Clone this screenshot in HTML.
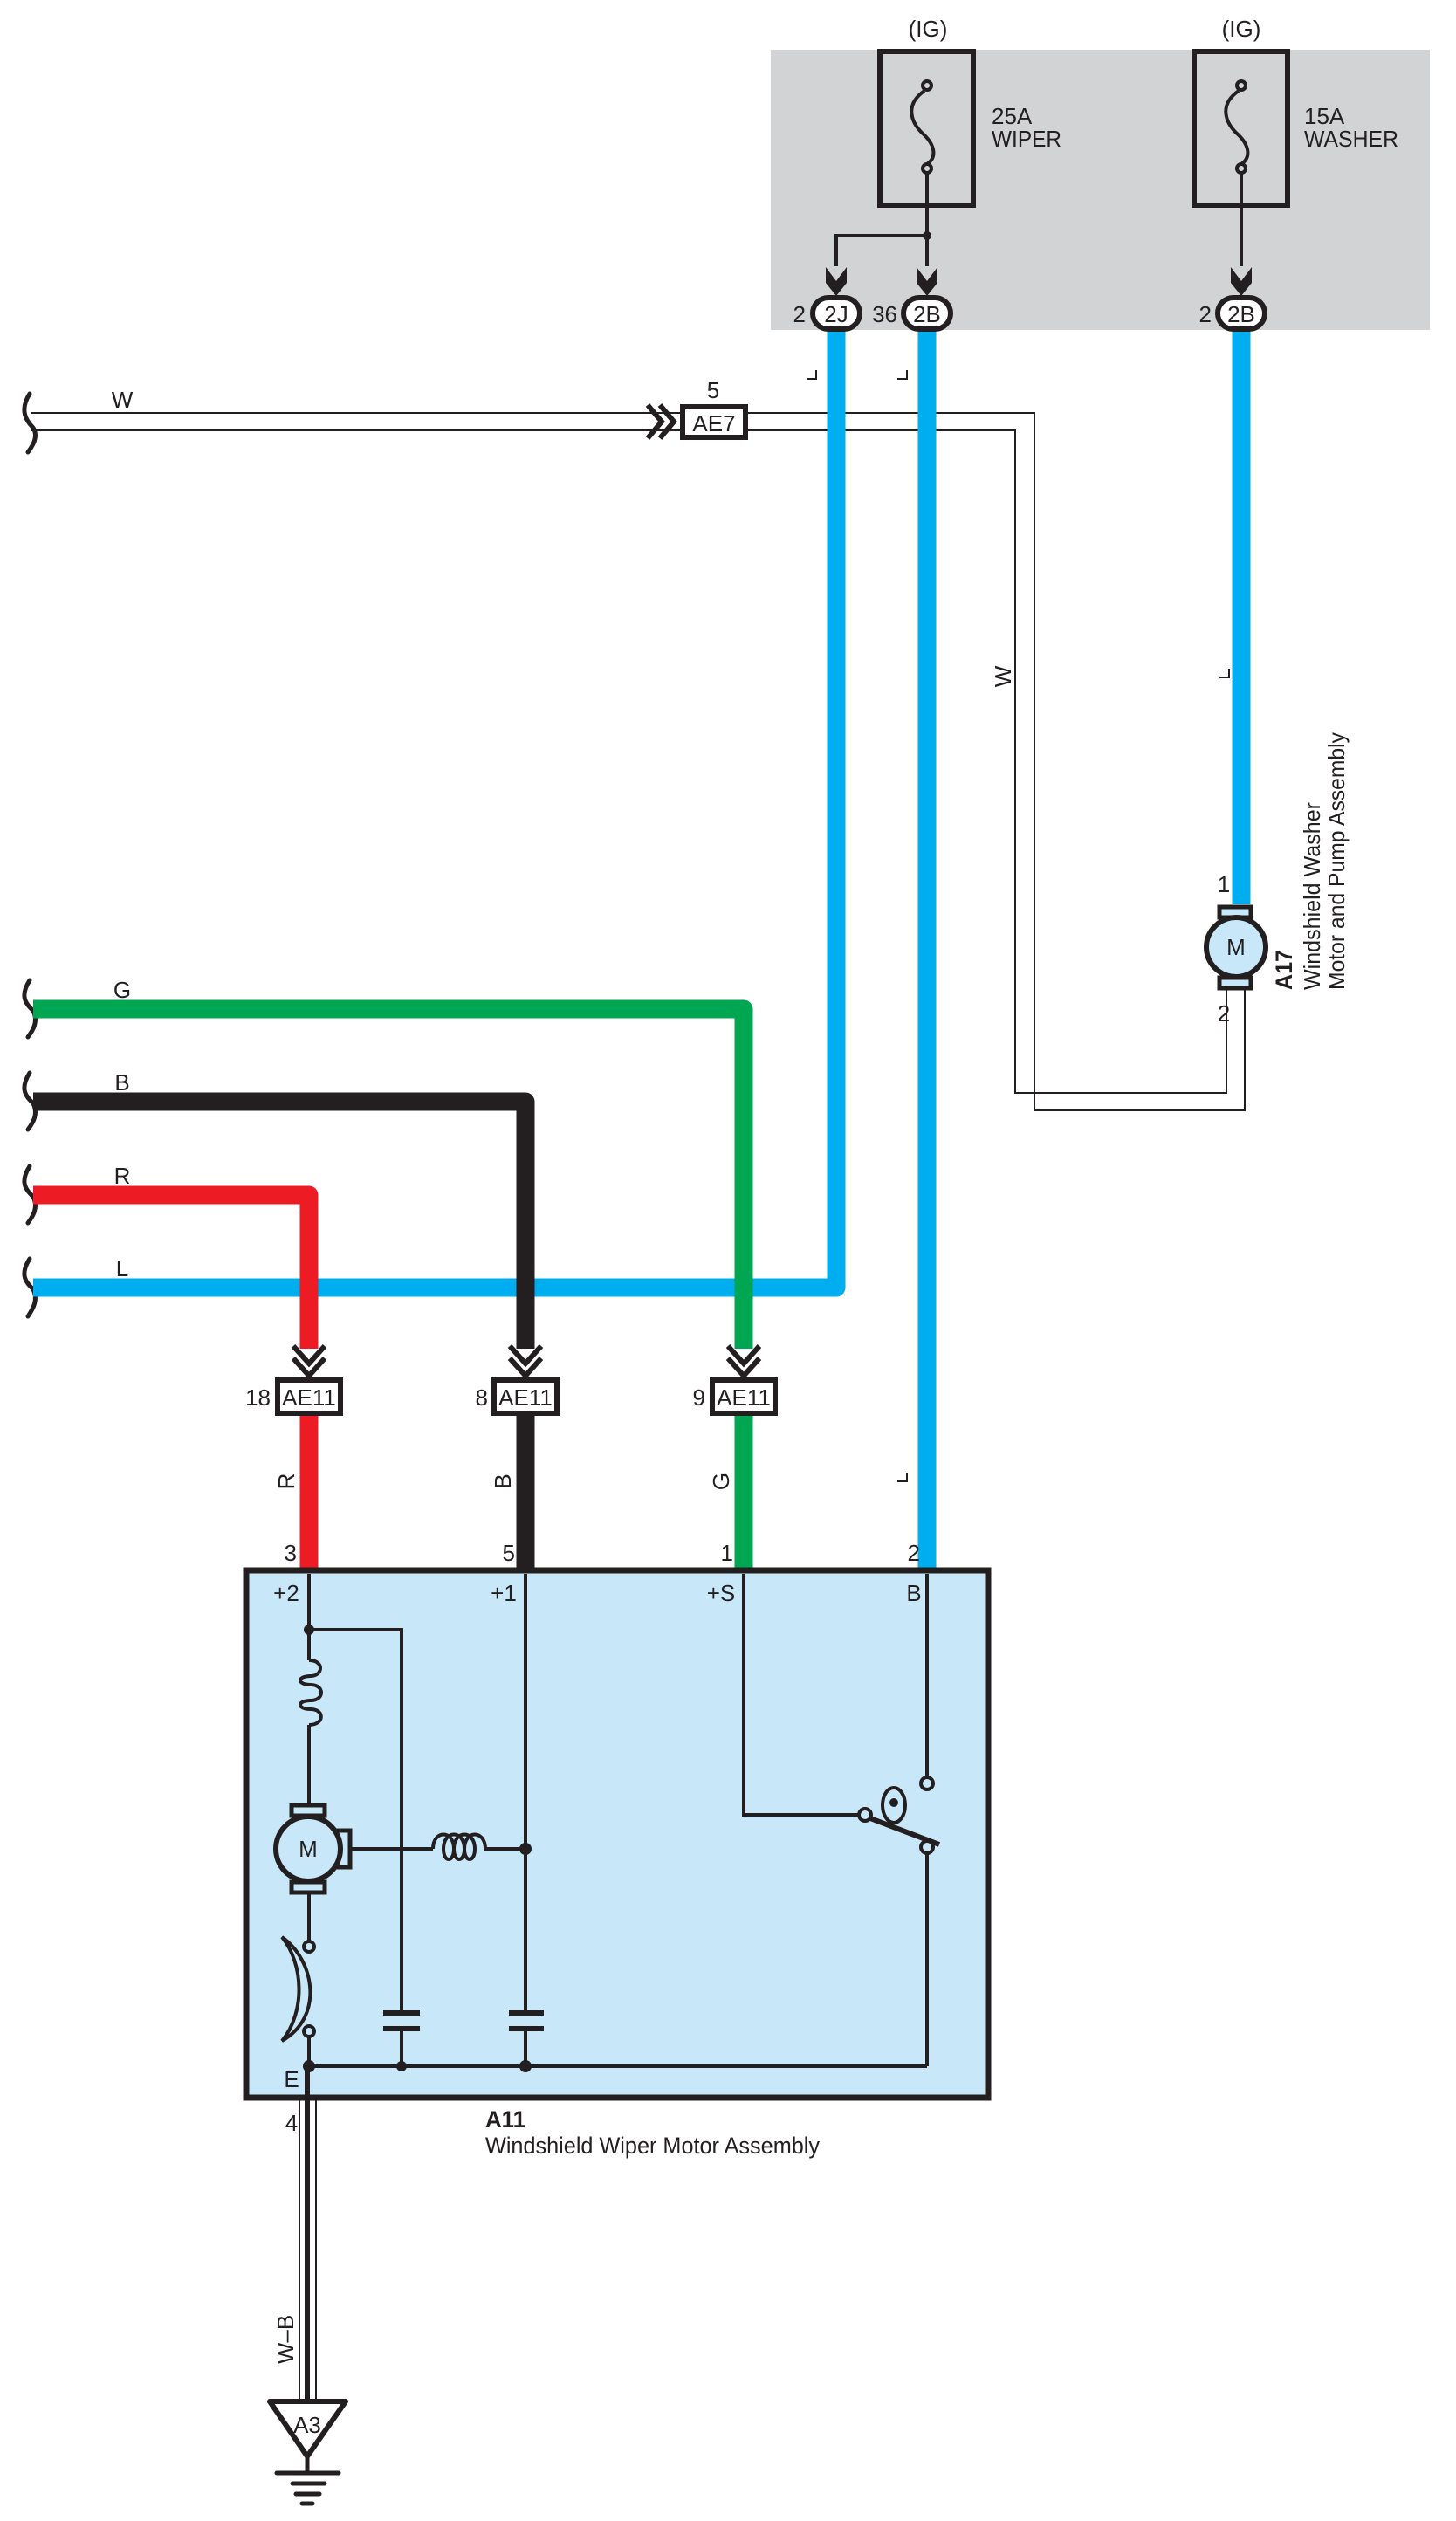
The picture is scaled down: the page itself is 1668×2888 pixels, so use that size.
<!DOCTYPE html>
<html><head><meta charset="utf-8"><style>
html,body{margin:0;padding:0;background:#fff}
svg{display:block}
text{font-family:"Liberation Sans Narrow","Liberation Sans",sans-serif;fill:#231f20}
</style></head><body>
<svg width="1668" height="2888" viewBox="0 0 1668 2888" xmlns="http://www.w3.org/2000/svg">
<!-- gray fuse block -->
<rect x="883" y="57" width="755" height="321" fill="#d1d3d4"/>
<text x="1063" y="42" font-size="26" text-anchor="middle">(IG)</text>
<text x="1422" y="42" font-size="26" text-anchor="middle">(IG)</text>
<g transform="translate(-4,0)">
<rect x="1012" y="59" width="107" height="176" fill="none" stroke="#231f20" stroke-width="6"/>
<g fill="none" stroke="#231f20" stroke-width="4">
<circle cx="1066" cy="98" r="5"/><circle cx="1066" cy="193" r="5"/>
<path d="M1063 104 C1040 120,1048 140,1060 152 C1075 165,1078 180,1066 188"/>
<path d="M1066 198 V305 M1066 270 H962 V305"/>
</g>
<circle cx="1066" cy="270" r="5" fill="#231f20"/>
<g fill="#231f20">
<path d="M950 306 L962 322 L974 306 L974 324 L962 339 L950 324Z"/>
<path d="M1054 306 L1066 322 L1078 306 L1078 324 L1066 339 L1054 324Z"/>
</g>
<text x="1140" y="142" font-size="26">25A</text>
<text x="1140" y="168" font-size="26" textLength="80" lengthAdjust="spacingAndGlyphs">WIPER</text>
</g>
<g transform="translate(-2,0)">
<rect x="1370" y="59" width="107" height="176" fill="none" stroke="#231f20" stroke-width="6"/>
<g fill="none" stroke="#231f20" stroke-width="4">
<circle cx="1424" cy="98" r="5"/><circle cx="1424" cy="193" r="5"/>
<path d="M1421 104 C1398 120,1406 140,1418 152 C1433 165,1436 180,1424 188"/>
<path d="M1424 198 V305"/>
</g>
<path d="M1412 306 L1424 322 L1436 306 L1436 324 L1424 339 L1412 324Z" fill="#231f20"/>
<text x="1496" y="142" font-size="26">15A</text>
<text x="1496" y="168" font-size="26" textLength="108" lengthAdjust="spacingAndGlyphs">WASHER</text>
</g>

<!-- W wire -->
<g fill="none" stroke="#231f20" stroke-width="2">
<path d="M36 473 H779"/><path d="M36 493 H779"/>
<path d="M856 473 H1185 V1272 H1426 V1134"/>
<path d="M856 493 H1163 V1252 H1405 V1134"/>
</g>
<!-- squiggles -->
<g fill="none" stroke="#231f20" stroke-width="5" stroke-linecap="round">
<path d="M34 451 C22 470,30 482,38 490 C44 500,38 510,32 518"/>
<path d="M34 1123 C22 1142,30 1150,38 1158 C44 1170,38 1180,32 1188"/>
<path d="M34 1229 C22 1248,30 1256,38 1264 C44 1276,38 1286,32 1294"/>
<path d="M34 1336 C22 1355,30 1363,38 1371 C44 1383,38 1393,32 1401"/>
<path d="M34 1442 C22 1461,30 1469,38 1477 C44 1489,38 1499,32 1508"/>
</g>
<text x="140" y="467" font-size="26" text-anchor="middle">W</text>
<text x="140" y="1143" font-size="26" text-anchor="middle">G</text>
<text x="140" y="1249" font-size="26" text-anchor="middle">B</text>
<text x="140" y="1356" font-size="26" text-anchor="middle">R</text>
<text x="140" y="1462" font-size="26" text-anchor="middle">L</text>

<!-- AE7 -->
<path d="M742 464 L758 483 L742 502 M756 464 L772 483 L756 502" fill="none" stroke="#231f20" stroke-width="6"/>
<rect x="782" y="466" width="72" height="35" fill="#fff" stroke="#231f20" stroke-width="6"/>
<text x="818" y="494" font-size="26" text-anchor="middle">AE7</text>
<text x="817" y="456" font-size="26" text-anchor="middle">5</text>

<!-- colored wires -->
<g fill="none" stroke-width="21" stroke-linejoin="round">
<path d="M1062 378 V1803" stroke="#00aeef"/>
<path d="M1422 378 V1036" stroke="#00aeef"/>
<path d="M38 1475 H958 V378" stroke="#00aeef"/>
<path d="M38 1156 H852 V1545" stroke="#00a651"/>
<path d="M38 1262 H602 V1545" stroke="#231f20"/>
<path d="M38 1369 H354 V1545" stroke="#ed1c24"/>
<path d="M354 1620 V1800" stroke="#ed1c24"/>
<path d="M602 1620 V1800" stroke="#231f20"/>
<path d="M852 1620 V1800" stroke="#00a651"/>
</g>
<!-- wire L marks -->
<g fill="none" stroke="#231f20" stroke-width="2">
<path d="M924 434 H935 V424"/><path d="M1028 434 H1039 V424"/>
<path d="M1397 776 H1408 V766"/><path d="M1028 1697 H1039 V1687"/>
</g>
<text transform="translate(1158,775) rotate(-90)" font-size="26" text-anchor="middle">W</text>
<!-- AE11 connectors -->
<g fill="none" stroke="#231f20" stroke-width="6">
<path d="M336 1542 L354 1562 L372 1542 M336 1556 L354 1576 L372 1556"/>
<path d="M584 1542 L602 1562 L620 1542 M584 1556 L602 1576 L620 1556"/>
<path d="M834 1542 L852 1562 L870 1542 M834 1556 L852 1576 L870 1556"/>
</g>
<rect x="318" y="1581" width="72" height="38" fill="#fff" stroke="#231f20" stroke-width="6"/>
<rect x="566" y="1581" width="72" height="38" fill="#fff" stroke="#231f20" stroke-width="6"/>
<rect x="816" y="1581" width="72" height="38" fill="#fff" stroke="#231f20" stroke-width="6"/>
<text x="354" y="1610" font-size="26" text-anchor="middle">AE11</text>
<text x="602" y="1610" font-size="26" text-anchor="middle">AE11</text>
<text x="852" y="1610" font-size="26" text-anchor="middle">AE11</text>
<text x="310" y="1610" font-size="26" text-anchor="end">18</text>
<text x="559" y="1610" font-size="26" text-anchor="end">8</text>
<text x="808" y="1610" font-size="26" text-anchor="end">9</text>
<text transform="translate(337,1697) rotate(-90)" font-size="26" text-anchor="middle">R</text>
<text transform="translate(585,1697) rotate(-90)" font-size="26" text-anchor="middle">B</text>
<text transform="translate(835,1697) rotate(-90)" font-size="26" text-anchor="middle">G</text>
<text x="340" y="1788" font-size="26" text-anchor="end">3</text>
<text x="590" y="1788" font-size="26" text-anchor="end">5</text>
<text x="840" y="1788" font-size="26" text-anchor="end">1</text>
<text x="1054" y="1788" font-size="26" text-anchor="end">2</text>

<!-- connectors 2J 2B -->
<g fill="#fff" stroke="#231f20" stroke-width="6">
<rect x="931" y="341" width="54" height="36" rx="18"/>
<rect x="1035" y="341" width="54" height="36" rx="18"/>
<rect x="1395" y="341" width="54" height="36" rx="18"/>
</g>
<text x="958" y="369" font-size="26" text-anchor="middle">2J</text>
<text x="1062" y="369" font-size="26" text-anchor="middle">2B</text>
<text x="1422" y="369" font-size="26" text-anchor="middle">2B</text>
<text x="923" y="369" font-size="26" text-anchor="end">2</text>
<text x="1028" y="369" font-size="26" text-anchor="end">36</text>
<text x="1388" y="369" font-size="26" text-anchor="end">2</text>

<!-- A17 washer motor -->
<rect x="1397" y="1039" width="36" height="12" fill="#c8e8f9" stroke="#231f20" stroke-width="5"/>
<rect x="1397" y="1120" width="36" height="12" fill="#c8e8f9" stroke="#231f20" stroke-width="5"/>
<circle cx="1416" cy="1085" r="34" fill="#c8e8f9" stroke="#231f20" stroke-width="6"/>
<text x="1416" y="1094" font-size="26" text-anchor="middle">M</text>
<text x="1402" y="1022" font-size="26" text-anchor="middle">1</text>
<text x="1402" y="1170" font-size="26" text-anchor="middle">2</text>
<text transform="translate(1480,1134) rotate(-90)" font-size="27" font-weight="bold" textLength="46" lengthAdjust="spacingAndGlyphs">A17</text>
<text transform="translate(1512,1134) rotate(-90)" font-size="26" textLength="215" lengthAdjust="spacingAndGlyphs">Windshield Washer</text>
<text transform="translate(1540,1134) rotate(-90)" font-size="26" textLength="295" lengthAdjust="spacingAndGlyphs">Motor and Pump Assembly</text>

<!-- A11 box -->
<rect x="282" y="1799" width="850" height="604" fill="#c8e8f9" stroke="#231f20" stroke-width="7"/>
<g fill="none" stroke="#231f20" stroke-width="4">
<path d="M354 1803 V1902 M354 1976 V2068"/>
<path d="M354 1902 C372 1902,370 1920,356 1920 C340 1920,340 1930,356 1930 C372 1930,372 1948,356 1948 C340 1948,340 1958,356 1958 C372 1958,372 1976,354 1976"/>
<path d="M354 1867 H460 V2306 M460 2324 V2367"/>
<path d="M602 1803 V2306 M602 2324 V2367"/>
<path d="M852 1803 V2079 H985"/>
<path d="M1062 1803 V2036 M1062 2123 V2367"/>
<path d="M354 2367 H1062"/>
<path d="M354 2167 V2224 M354 2333 V2367"/>
<path d="M403 2118 H496 M568 2118 H602"/>
<path d="M496 2118 C496 2096,520 2096,520 2118 C520 2134,508 2134,508 2118 C508 2096,532 2096,532 2118 C532 2134,520 2134,520 2118 C520 2096,544 2096,544 2118 C544 2134,532 2134,532 2118 C532 2096,556 2096,556 2118 H568"/>
<path d="M323 2219 C360 2245,372 2310,323 2338 C350 2305,348 2250,323 2219Z"/>
<circle cx="354" cy="2230" r="6" fill="#c8e8f9"/>
<circle cx="354" cy="2327" r="6" fill="#c8e8f9"/>
<circle cx="991" cy="2079" r="7" fill="#c8e8f9"/>
<circle cx="1062" cy="2043" r="7" fill="#c8e8f9"/>
<ellipse cx="1024" cy="2068" rx="13" ry="20"/>
</g>
<path d="M997 2083 L1076 2113" stroke="#231f20" stroke-width="6"/>
<circle cx="1062" cy="2116" r="7" fill="#c8e8f9" stroke="#231f20" stroke-width="4"/>
<circle cx="1024" cy="2065" r="5" fill="#231f20"/>
<g stroke="#231f20" stroke-width="6">
<path d="M439 2306 H481 M439 2324 H481 M583 2306 H623 M583 2324 H623"/>
</g>
<!-- internal motor -->
<rect x="334" y="2068" width="38" height="12" fill="#c8e8f9" stroke="#231f20" stroke-width="5"/>
<rect x="334" y="2156" width="38" height="12" fill="#c8e8f9" stroke="#231f20" stroke-width="5"/>
<rect x="386" y="2097" width="15" height="42" fill="#c8e8f9" stroke="#231f20" stroke-width="5"/>
<circle cx="353" cy="2118" r="37" fill="#c8e8f9" stroke="#231f20" stroke-width="6"/>
<text x="353" y="2127" font-size="26" text-anchor="middle">M</text>
<g fill="#231f20">
<circle cx="354" cy="1867" r="6"/><circle cx="602" cy="2118" r="7"/>
<circle cx="354" cy="2367" r="7"/><circle cx="460" cy="2367" r="6"/><circle cx="602" cy="2367" r="7"/>
</g>
<text x="328" y="1834" font-size="26" text-anchor="middle">+2</text>
<text x="577" y="1834" font-size="26" text-anchor="middle">+1</text>
<text x="826" y="1834" font-size="26" text-anchor="middle">+S</text>
<text x="1047" y="1834" font-size="26" text-anchor="middle">B</text>
<text x="334" y="2391" font-size="26" text-anchor="middle">E</text>
<text x="334" y="2441" font-size="26" text-anchor="middle">4</text>
<text x="556" y="2437" font-size="27" font-weight="bold" textLength="46" lengthAdjust="spacingAndGlyphs">A11</text>
<text x="556" y="2467" font-size="27" textLength="383" lengthAdjust="spacingAndGlyphs">Windshield Wiper Motor Assembly</text>

<!-- ground wire -->
<g stroke="#231f20">
<path d="M343 2406 V2752 M362 2406 V2752" stroke-width="2"/>
<path d="M352 2370 V2752" stroke-width="6"/>
</g>
<text transform="translate(336,2680) rotate(-90)" font-size="26" text-anchor="middle">W–B</text>
<path d="M309 2751 H396 L352 2814Z" fill="#fff" stroke="#231f20" stroke-width="6" stroke-linejoin="round"/>
<text x="352" y="2787" font-size="26" text-anchor="middle">A3</text>
<g stroke="#231f20" stroke-width="5" stroke-linecap="round">
<path d="M352 2814 V2833"/>
<path d="M317 2833 H388 M335 2845 H372 M339 2857 H366 M346 2868 H358"/>
</g>
</svg>
</body></html>
